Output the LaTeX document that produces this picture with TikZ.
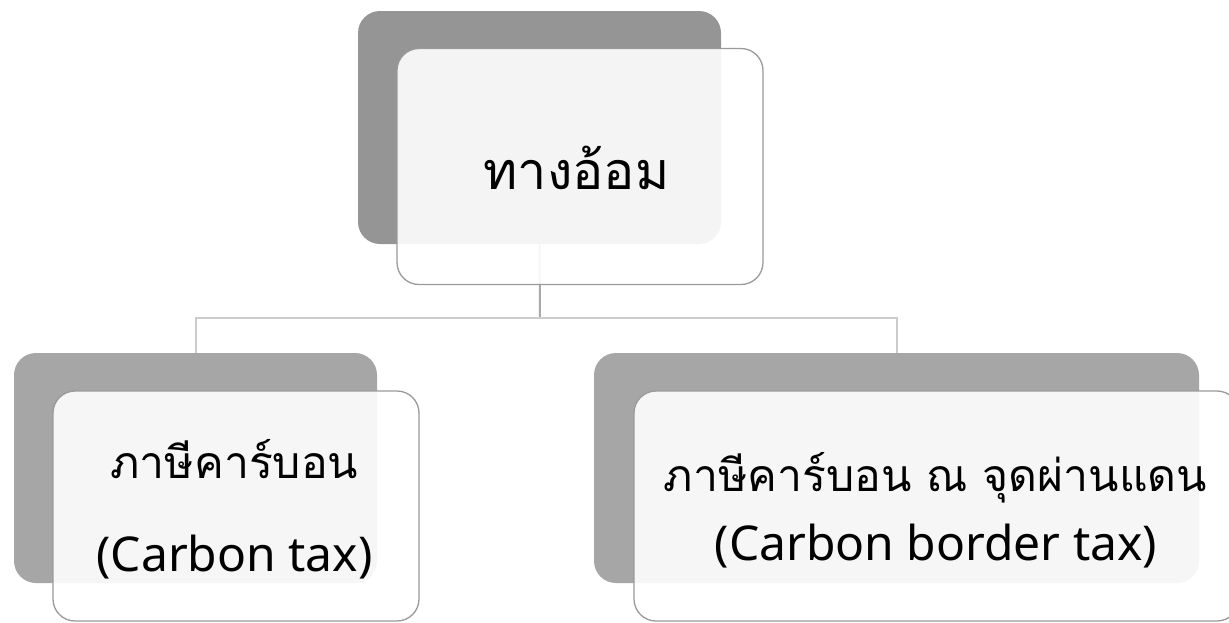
\documentclass[tikz,border=0pt]{standalone}
\usepackage{fontspec}
\newfontfamily\thaifont[Script=Thai]{Loma}
\newfontfamily\latinfont{Noto Sans}
\definecolor{backA}{HTML}{959595}
\definecolor{backB}{HTML}{A6A6A6}
\definecolor{edgeC}{HTML}{9A9A9A}
\definecolor{connA}{HTML}{AAAAAA}
\definecolor{connB}{HTML}{CCCCCC}
\tikzset{
  backbox/.style={rounded corners=22pt, inner sep=0pt, draw=none},
  frontbox/.style={rounded corners=22pt, inner sep=0pt, draw=edgeC, line width=1.3pt, fill=white, fill opacity=0.9},
  conn/.style={line width=2pt, draw=connB},
  thaitext/.style={inner sep=0pt, text=black},
  lattext/.style={inner sep=0pt, text=black},
}
\begin{document}
\begin{tikzpicture}[x=1pt,y=-1pt]
\useasboundingbox (0,0) rectangle (1229,622);
\fill[white] (0,0) rectangle (1229,622);
% back boxes
\node[backbox, fill=backA, minimum width=363pt, minimum height=233pt] (g1) at (539.5,127.5) {};
\node[backbox, fill=backB, minimum width=363pt, minimum height=230pt] (g2) at (195.5,468) {};
\node[backbox, fill=backB, minimum width=605pt, minimum height=230pt] (g3) at (896.5,468) {};
% connectors
\coordinate (bus) at (540,318);
\draw[conn, draw=connA] (g1.south) -- (bus);
\draw[conn] (bus) -| (g2.north);
\draw[conn] (bus) -| (g3.north);
% front boxes
\node[frontbox, minimum width=366pt, minimum height=236pt] (w1) at (580,166.5) {};
\node[frontbox, minimum width=366pt, minimum height=230pt] (w2) at (236,506) {};
\node[frontbox, minimum width=605pt, minimum height=230pt] (w3) at (936.5,506) {};
% texts
\node[thaitext, font=\thaifont\fontsize{52}{60}\selectfont] (t1) at (576.5,168) {ทางอ้อม};
\node[thaitext, font=\thaifont\fontsize{44.5}{52}\selectfont] (t2a) at (234.5,459) {ภาษีคาร์บอน};
\node[lattext, font=\latinfont\fontsize{48}{56}\selectfont] (t2b) at (234.5,557) {(Carbon tax)};
\node[thaitext, font=\thaifont\fontsize{44.5}{52}\selectfont] (t3a) at (935.5,478) {ภาษีคาร์บอน ณ จุดผ่านแดน};
\node[lattext, font=\latinfont\fontsize{48}{56}\selectfont] (t3b) at (936,546) {(Carbon border tax)};
\end{tikzpicture}
\end{document}
